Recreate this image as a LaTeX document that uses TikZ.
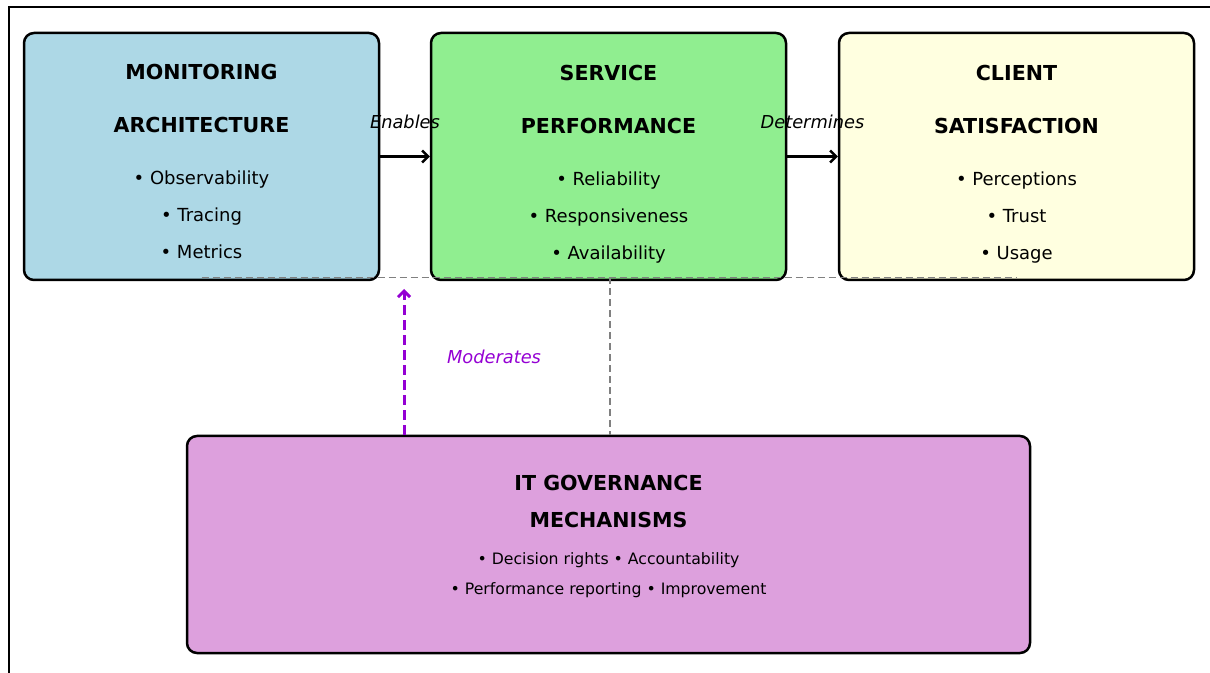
\documentclass[tikz,border=0pt]{standalone}
\usepackage{fontspec}
\setmainfont{DejaVu Sans}
\usetikzlibrary{arrows.meta}

\definecolor{monblue}{HTML}{ADD8E6}
\definecolor{perfgreen}{HTML}{90EE90}
\definecolor{satyellow}{HTML}{FFFFE0}
\definecolor{govplum}{HTML}{DDA0DD}
\definecolor{modviolet}{HTML}{9400D3}

\newcommand{\boxtitle}[1]{{\fontsize{10.3}{18.5}\selectfont\bfseries #1}}

\begin{document}
\begin{tikzpicture}[x=0.5pt,y=-0.5pt,
  box/.style={draw=black, line width=1.25pt, rounded corners=5pt,
    minimum width=177.5pt, minimum height=123.5pt, inner sep=0pt},
  boxtext/.style={align=center, inner sep=0pt, font=\fontsize{9}{18.5}\selectfont},
  flow/.style={-{Straight Barb[length=3pt,width=6pt]}, line width=1.2pt},
  lbl/.style={inner sep=0pt, font=\fontsize{8.9}{10}\selectfont\itshape},
  link/.style={draw=gray, line width=0.7pt, dash pattern=on 3.5pt off 2pt}]

\useasboundingbox (0,0) rectangle (1210,673);

% Frame (runs off at right and bottom)
\draw[line width=0.8pt] (9,673) -- (9,7) -- (1210,7);

% Top row
\node[box, fill=monblue] (mon) at (201.5,156.5) {};
\node[box, fill=perfgreen] (perf) at (608.5,156.5) {};
\node[box, fill=satyellow] (sat) at (1016.5,156.5) {};

\node[boxtext] (mon-txt) at ([yshift=-2.5pt]mon.center)
  {\boxtitle{MONITORING}\\[8pt]\boxtitle{ARCHITECTURE}\\[7.5pt]• Observability\\• Tracing\\• Metrics};
\node[boxtext] (perf-txt) at ([yshift=-3.75pt]perf.center)
  {\boxtitle{SERVICE}\\[8pt]\boxtitle{PERFORMANCE}\\[7.5pt]• Reliability\\• Responsiveness\\• Availability};
\node[boxtext] (sat-txt) at ([yshift=-3.75pt]sat.center)
  {\boxtitle{CLIENT}\\[8pt]\boxtitle{SATISFACTION}\\[7.5pt]• Perceptions\\• Trust\\• Usage};

% Governance box
\node[box, fill=govplum, minimum width=421.5pt, minimum height=108.5pt] (gov) at (608.5,544.5) {};
\node[boxtext, font=\fontsize{7.85}{15}\selectfont] (gov-txt) at ([yshift=3.9pt]gov.center)
  {\boxtitle{IT GOVERNANCE}\\[3.5pt]\boxtitle{MECHANISMS}\\[3.5pt]• Decision rights • Accountability\\• Performance reporting • Improvement};

% Main flow
\draw[flow] (mon.east) -- node[lbl, midway, yshift=17.5pt] (enab) {Enables} (perf.west);
\draw[flow] (perf.east) -- node[lbl, midway, yshift=17.5pt] (detm) {Determines} (sat.west);

% Dashed links
\draw[link] ([yshift=2pt]mon.south) -- ([yshift=2pt]sat.south);
\draw[link] ([xshift=0.75pt,yshift=2pt]perf.south) -- ([xshift=0.75pt]gov.north);

% Moderating effect
\coordinate (modtip) at (404,289);
\draw[modviolet, line width=1.5pt, dash pattern=on 5pt off 2.5pt,
  -{Straight Barb[length=3pt,width=6pt]}] (gov.north -| modtip) -- (modtip);
\node[lbl, text=modviolet] (modlbl) at (494,357) {Moderates};

\end{tikzpicture}
\end{document}
